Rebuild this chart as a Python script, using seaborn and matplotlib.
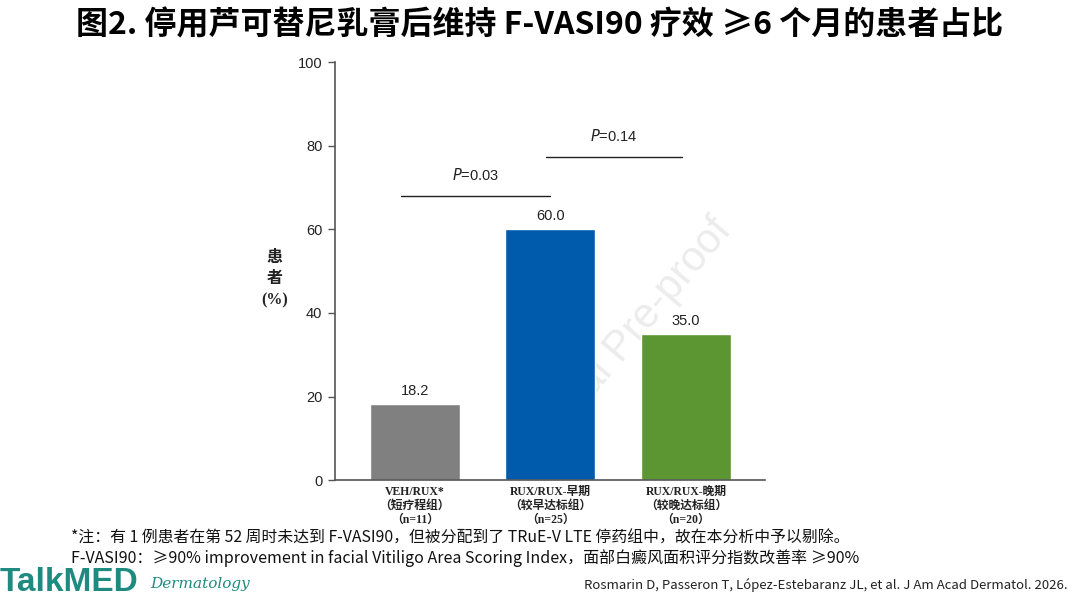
import matplotlib
matplotlib.use("Agg")
import matplotlib.pyplot as plt
import seaborn as sns
import pandas as pd

# data
groups = ["VEH/RUX*\n（短疗程组）\n（n=11）",
          "RUX/RUX-早期\n（较早达标组）\n（n=25）",
          "RUX/RUX-晚期\n（较晚达标组）\n（n=20）"]
percent = [18.2, 60.0, 35.0]
bar_colors = ["#808080", "#005BAC", "#5B9632"]
y_ticks = [0, 20, 40, 60, 80, 100]
p_labels = ["$\\it{P}$=0.03", "$\\it{P}$=0.14"]

df = pd.DataFrame({"group": groups, "percent": percent})

sns.set_theme(style="white")
plt.rcParams["font.family"] = ["Liberation Sans", "Noto Sans CJK SC", "DejaVu Sans"]

fig = plt.figure(figsize=(10.8, 5.98), dpi=100)
ax = fig.add_axes([0.310, 0.197, 0.398, 0.699])

sns.barplot(data=df, x="group", y="percent", hue="group", palette=bar_colors,
            width=0.665, legend=False, ax=ax, saturation=1, zorder=2)

ax.set_xlim(-0.59, 2.58)
ax.set_ylim(0, 100)
ax.set_yticks(y_ticks)
ax.set_yticklabels([str(t) for t in y_ticks], fontsize=10.5, color="#222222")
ax.tick_params(axis="y", length=5, width=1, color="#555555", direction="out", pad=4, left=True)
ax.tick_params(axis="x", length=0, pad=4)
for s in ["top", "right"]:
    ax.spines[s].set_visible(False)
for s in ["left", "bottom"]:
    ax.spines[s].set_color("#555555")
    ax.spines[s].set_linewidth(1.2)

serif_cjk = ["Liberation Serif", "Noto Sans CJK SC"]
ax.set_xticks(range(len(groups)))
ax.set_xticklabels(groups, fontsize=8.5, fontweight="bold", family=serif_cjk,
                   linespacing=1.2, color="#222222")
ax.set_xlabel("")
ax.set_ylabel("")

# value labels
for i, v in enumerate(percent):
    ax.text(i, v + 1.5, f"{v:.1f}", ha="center", va="bottom", fontsize=10.5, color="#222222", zorder=3)

# significance brackets
ax.plot([-0.1, 1.0], [68, 68], color="#222222", lw=1)
ax.plot([0.97, 1.97], [77.3, 77.3], color="#222222", lw=1)
ax.text(0.45, 71, p_labels[0], ha="center", va="bottom", fontsize=10.5, color="#222222")
ax.text(1.47, 80.5, p_labels[1], ha="center", va="bottom", fontsize=10.5, color="#222222")

# faint watermark, behind the bars
ax.text(0.575, 0.42, "Journal Pre-proof", rotation=50, ha="center", va="center",
        fontsize=30, color="#ececec", zorder=0.5, transform=fig.transFigure)

# y label stacked
fig.text(0.2545, 0.533, "患\n者\n(%)", ha="center", va="center", fontsize=11.5,
         fontweight="bold", family=serif_cjk, linespacing=1.4, color="#222222")

# title
fig.text(0.5, 0.958, "图2. 停用芦可替尼乳膏后维持 F-VASI90 疗效 ≥6 个月的患者占比",
         ha="center", va="center", fontsize=23, fontweight="bold",
         family=["Noto Sans CJK SC", "DejaVu Sans"], color="black")

# footnotes
note_font = ["Noto Sans CJK SC", "DejaVu Sans"]
fig.text(0.066, 0.100, "*注：有 1 例患者在第 52 周时未达到 F-VASI90，但被分配到了 TRuE-V LTE 停药组中，故在本分析中予以剔除。",
         ha="left", va="center", fontsize=11.4, family=note_font, color="#111111")
fig.text(0.066, 0.067, "F-VASI90：≥90% improvement in facial Vitiligo Area Scoring Index，面部白癜风面积评分指数改善率 ≥90%",
         ha="left", va="center", fontsize=11.5, family=note_font, color="#111111")
fig.text(0.989, 0.022, "Rosmarin D, Passeron T, López-Estebaranz JL, et al. J Am Acad Dermatol. 2026.",
         ha="right", va="center", fontsize=9.5, family=note_font, color="#222222")

# logo
fig.text(0.0, 0.011, "TalkMED", ha="left", va="baseline", fontsize=24, fontweight="bold",
         family=["Liberation Sans"], color="#1F8B80")
fig.text(0.139, 0.016, "Dermatology", ha="left", va="baseline", fontsize=11, style="italic",
         family=["DejaVu Serif"], color="#1F8B80")

fig.savefig("out.png", dpi=100)
